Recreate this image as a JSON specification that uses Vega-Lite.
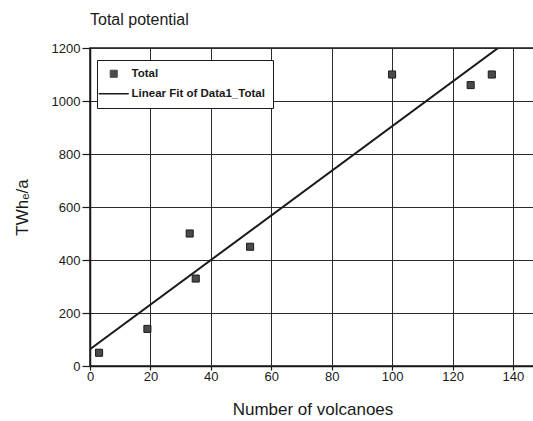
{
  "$schema": "https://vega.github.io/schema/vega-lite/v6.json",
  "width": 445,
  "height": 318,
  "autosize": {"type": "none"},
  "padding": {"left": 90, "top": 48, "right": 0, "bottom": 55},
  "background": "white",
  "title": {
    "text": "Total potential",
    "anchor": "start",
    "frame": "group",
    "fontSize": 16,
    "fontWeight": "normal",
    "font": "Liberation Sans",
    "color": "#1a1a1a",
    "offset": 14
  },
  "config": {
    "font": "Liberation Sans",
    "view": {"stroke": "#1a1a1a", "strokeWidth": 1.5},
    "axis": {
      "domainColor": "#1a1a1a",
      "domainWidth": 1.5,
      "gridColor": "#2a2a2a",
      "gridWidth": 1,
      "tickColor": "#1a1a1a",
      "tickWidth": 1.2,
      "labelColor": "#1a1a1a",
      "labelFontSize": 13,
      "titleColor": "#1a1a1a",
      "titleFontSize": 17,
      "titleFontWeight": "normal"
    },
    "legend": {
      "orient": "none",
      "legendX": 7,
      "legendY": 12,
      "direction": "vertical",
      "strokeColor": "#1a1a1a",
      "fillColor": "white",
      "padding": 8,
      "rowPadding": 7,
      "symbolSize": 100,
      "symbolOffset": 3,
      "labelOffset": 12,
      "labelFont": "Liberation Sans",
      "labelFontSize": 11.5,
      "labelFontWeight": "bold",
      "labelColor": "#1a1a1a",
      "labelLimit": 300
    }
  },
  "data": {
    "values": [
      {"volcanoes": 3, "potential": 50},
      {"volcanoes": 19, "potential": 140},
      {"volcanoes": 33, "potential": 500},
      {"volcanoes": 35, "potential": 330},
      {"volcanoes": 53, "potential": 450},
      {"volcanoes": 100, "potential": 1100},
      {"volcanoes": 126, "potential": 1060},
      {"volcanoes": 133, "potential": 1100}
    ]
  },
  "layer": [
    {
      "mark": {"type": "point", "shape": "square", "filled": true, "size": 50, "stroke": "#1a1a1a", "strokeWidth": 1, "opacity": 1},
      "encoding": {
        "x": {
          "field": "volcanoes",
          "type": "quantitative",
          "scale": {"domain": [0, 147.3], "nice": false, "zero": false},
          "axis": {
            "title": "Number of volcanoes",
            "values": [0, 10, 20, 30, 40, 50, 60, 70, 80, 90, 100, 110, 120, 130, 140],
            "labelExpr": "datum.value % 20 === 0 ? datum.label : ''",
            "gridOpacity": {"condition": {"test": "datum.value % 20 === 0", "value": 1}, "value": 0},
            "tickSize": {"condition": {"test": "datum.value % 20 === 0", "value": 4}, "value": -4},
            "labelPadding": 0,
            "titlePadding": 18,
            "labelFlush": false
          }
        },
        "y": {
          "field": "potential",
          "type": "quantitative",
          "scale": {"domain": [0, 1200], "nice": false},
          "axis": {
            "title": "TWhₑ/a",
            "values": [0, 100, 200, 300, 400, 500, 600, 700, 800, 900, 1000, 1100, 1200],
            "labelExpr": "datum.value % 200 === 0 ? datum.value : ''",
            "gridOpacity": {"condition": {"test": "datum.value % 200 === 0", "value": 1}, "value": 0},
            "tickSize": {"condition": {"test": "datum.value % 200 === 0", "value": 8}, "value": 4},
            "labelPadding": 2,
            "titlePadding": 20
          }
        },
        "color": {
          "datum": "Total",
          "type": "nominal",
          "scale": {"domain": ["Total", "Linear Fit of Data1_Total"], "range": ["#4a4a4a", "#1a1a1a"]},
          "legend": {
            "title": null,
            "encode": {
              "symbols": {
                "update": {
                  "shape": {"signal": "datum.value === 'Total' ? 'square' : 'M-3,0H3'"},
                  "size": {"signal": "datum.value === 'Total' ? 50 : 100"},
                  "fill": {"signal": "datum.value === 'Total' ? '#4a4a4a' : 'transparent'"},
                  "stroke": {"value": "#1a1a1a"},
                  "strokeWidth": {"signal": "datum.value === 'Total' ? 1 : 1.5"},
                  "opacity": {"value": 1},
                  "fillOpacity": {"value": 1}
                }
              }
            }
          }
        }
      }
    },
    {
      "transform": [
        {"regression": "potential", "on": "volcanoes", "extent": [0, 147.3]}
      ],
      "mark": {"type": "line", "strokeWidth": 2, "clip": true},
      "encoding": {
        "x": {"field": "volcanoes", "type": "quantitative"},
        "y": {"field": "potential", "type": "quantitative"},
        "color": {
          "datum": "Linear Fit of Data1_Total",
          "type": "nominal",
          "legend": {
            "title": null,
            "encode": {
              "symbols": {
                "update": {
                  "shape": {"signal": "datum.value === 'Total' ? 'square' : 'M-3,0H3'"},
                  "size": {"signal": "datum.value === 'Total' ? 50 : 100"},
                  "fill": {"signal": "datum.value === 'Total' ? '#4a4a4a' : 'transparent'"},
                  "stroke": {"value": "#1a1a1a"},
                  "strokeWidth": {"signal": "datum.value === 'Total' ? 1 : 1.5"},
                  "opacity": {"value": 1},
                  "fillOpacity": {"value": 1}
                }
              }
            }
          }
        }
      }
    }
  ]
}
